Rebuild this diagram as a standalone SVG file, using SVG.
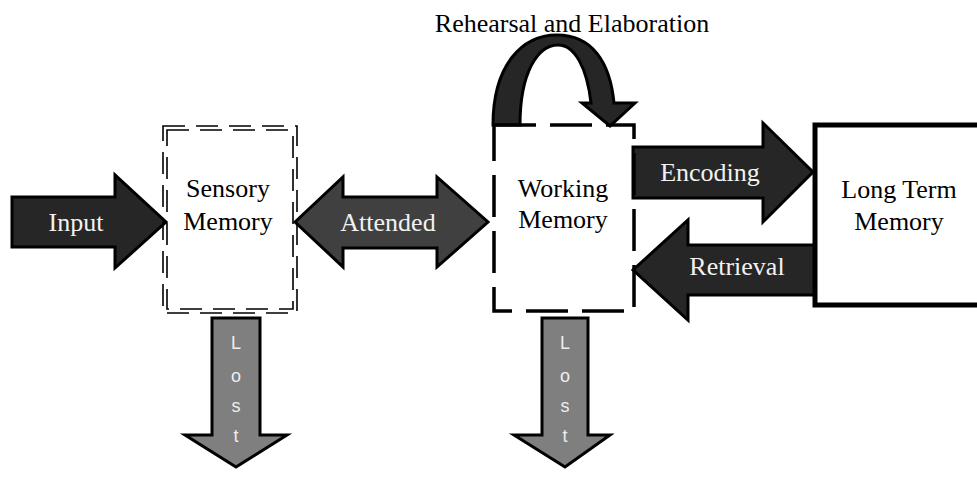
<svg xmlns="http://www.w3.org/2000/svg" width="977" height="477" viewBox="0 0 977 477">
<style>
.lbl{font-family:"Liberation Serif","Times New Roman",serif;font-size:26px;text-anchor:middle}
.dark{fill:#262626;stroke:#000;stroke-width:3;stroke-linejoin:miter}
.mid{fill:#404040;stroke:#000;stroke-width:3}
.gray{fill:#7f7f7f;stroke:#000;stroke-width:3}
.wt{fill:#f2f2f2}
.lost{font-family:"Liberation Sans",Arial,sans-serif;font-size:18px;fill:#eeeeee;text-anchor:middle}
</style>
<rect width="977" height="477" fill="#fff"/>
<g id="connectors">
  <g id="input-arrow">
    <polygon class="dark" points="12,197 115,197 115,175 166,222 115,268 115,247 12,247"/>
    <text class="lbl wt" x="76" y="231">Input</text>
  </g>
  <g id="attended-arrow">
    <polygon class="mid" points="295,222 343,177 343,197 437,197 437,177 488,222 437,267 437,248 343,248 343,267"/>
    <text class="lbl wt" x="388" y="231">Attended</text>
  </g>
  <g id="encoding-arrow">
    <polygon class="dark" points="633,147 763,147 763,123 813,172 763,222 763,198 633,198"/>
    <text class="lbl wt" x="710" y="181">Encoding</text>
  </g>
  <g id="retrieval-arrow">
    <polygon class="dark" points="820,245 688,245 688,220 633,270 688,320 688,295 820,295"/>
    <text class="lbl wt" x="737" y="275">Retrieval</text>
  </g>
  <g id="rehearsal-arrow">
    <path class="dark" d="M493,125 C493,65 522,35 557,35 C592,35 610,62 614,103 L635,103 L610,126 L582,103 L591,103 C587,68 575,45 558,45 C538,45 520,72 520,125 Z"/>
    <text class="lbl" x="572" y="32" fill="#000">Rehearsal and Elaboration</text>
  </g>
  <g id="lost-sensory">
    <polygon class="gray" points="212,318 260,318 260,435 287,435 236,467 185,435 212,435"/>
    <text class="lost" x="236" y="349">L</text>
    <text class="lost" x="236" y="382">o</text>
    <text class="lost" x="236" y="412">s</text>
    <text class="lost" x="236" y="442">t</text>
  </g>
  <g id="lost-working">
    <polygon class="gray" points="542,318 588,318 588,435 610,435 565,467 514,435 542,435"/>
    <text class="lost" x="565" y="349">L</text>
    <text class="lost" x="565" y="382">o</text>
    <text class="lost" x="565" y="412">s</text>
    <text class="lost" x="565" y="442">t</text>
  </g>
</g>
<g id="sensory-memory">
  <rect x="163" y="126" width="134" height="187" fill="none" stroke="#000" stroke-width="1.6" stroke-dasharray="22 11"/>
  <rect x="167" y="130" width="126" height="179" fill="none" stroke="#000" stroke-width="1.6" stroke-dasharray="22 11"/>
  <text class="lbl" x="228" y="197">Sensory</text>
  <text class="lbl" x="228" y="230">Memory</text>
</g>
<g id="working-memory">
  <rect x="494" y="125" width="140" height="186" fill="none" stroke="#000" stroke-width="3.5" stroke-dasharray="42 14"/>
  <text class="lbl" x="563" y="197">Working</text>
  <text class="lbl" x="563" y="228">Memory</text>
</g>
<g id="long-term-memory">
  <rect x="815" y="125" width="200" height="180" fill="#fff" stroke="#000" stroke-width="5"/>
  <text class="lbl" x="899" y="198">Long Term</text>
  <text class="lbl" x="899" y="230">Memory</text>
</g>
</svg>
